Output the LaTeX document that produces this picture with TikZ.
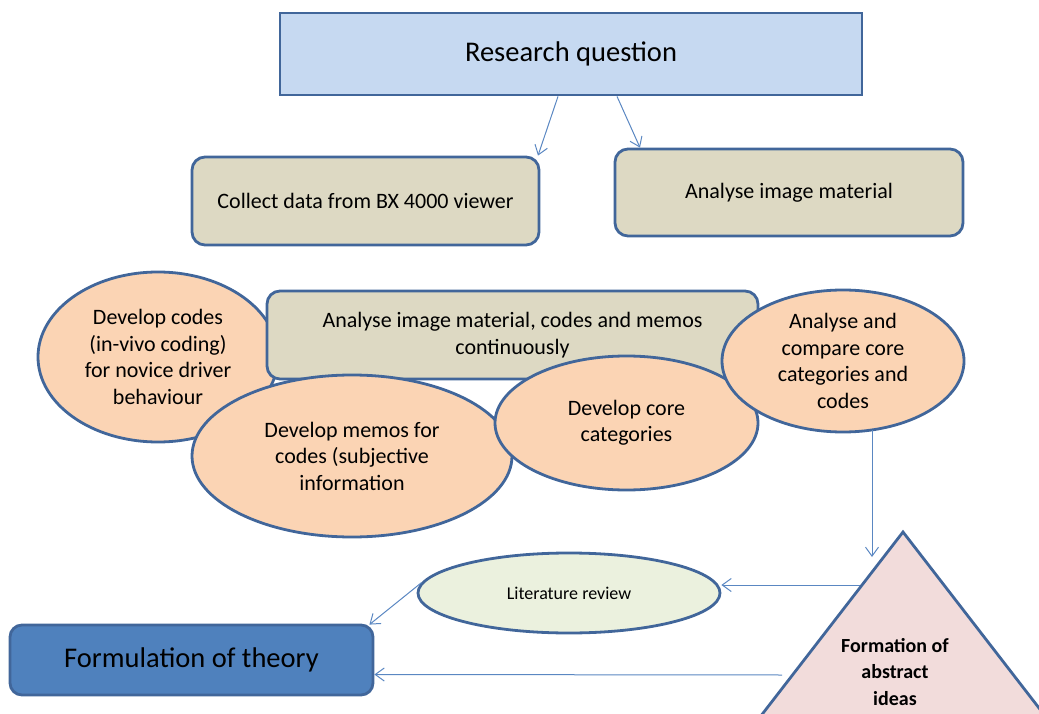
\documentclass[tikz,border=0pt]{standalone}
\usepackage{fontspec}
\setmainfont{Carlito}
\usetikzlibrary{shapes.geometric,arrows.meta}

\definecolor{edgeblue}{HTML}{41669A}
\definecolor{rqfill}{HTML}{C6D9F1}
\definecolor{tanfill}{HTML}{DDD9C3}
\definecolor{peach}{HTML}{FBD4B4}
\definecolor{litfill}{HTML}{EBF1DE}
\definecolor{trifill}{HTML}{F2DCDB}
\definecolor{theoryfill}{HTML}{4F81BD}
\definecolor{arrowblue}{HTML}{5A87C2}

\tikzset{
  box/.style={draw=edgeblue, line width=2.8pt, inner sep=0pt, align=center},
  tanbox/.style={box, fill=tanfill, rounded corners=13pt, font=\fontsize{22}{26.5}\selectfont},
  bubble/.style={box, ellipse, fill=peach, font=\fontsize{22}{26.5}\selectfont},
  flow/.style={draw=arrowblue, line width=1pt, -{Straight Barb[length=9pt,width=13pt]}},
}

\begin{document}
\begin{tikzpicture}[x=1pt,y=-1pt]
\useasboundingbox (0,0) rectangle (1039,714);
\clip (0,0) rectangle (1039,714);

% top of the process
\node[box, fill=rqfill, minimum width=582pt, minimum height=82pt,
      font=\fontsize{28.5}{32}\selectfont] (rq) at (571,54) {Research question};
\node[tanbox, minimum width=347pt, minimum height=88pt] (collect) at (365.5,201)
      {Collect data from BX 4000 viewer};
\node[tanbox, minimum width=348pt, minimum height=87pt] (analyse) at (789,192.5)
      {Analyse image material};

% overlapping coding stage
\node[bubble, minimum width=240pt, minimum height=170pt] (codes) at (158,357)
      {Develop codes\\(in-vivo coding)\\for novice driver\\behaviour};
\node[tanbox, minimum width=491pt, minimum height=88pt] (cont) at (512.5,335)
      {Analyse image material, codes and memos\\continuously};
\node[bubble, minimum width=320pt, minimum height=162pt] (memos) at (352,456)
      {Develop memos for\\codes (subjective\\information};
\node[bubble, minimum width=263pt, minimum height=134pt] (core) at (626.5,423)
      {Develop core\\categories};
\node[bubble, minimum width=242pt, minimum height=142pt] (compare) at (843,361)
      {Analyse and\\compare core\\categories and\\codes};

% abstraction triangle
\coordinate (apex) at (903,532);
\draw[draw=edgeblue, line width=2.8pt, fill=trifill, line join=miter]
  (apex) -- (750,730) -- (1056,730) -- cycle;
\node[font=\bfseries\fontsize{20}{26.5}\selectfont, align=center] (ideas) at (895,672)
      {Formation of\\abstract\\ideas};
\coordinate (tri-top-in) at (872,557);
\coordinate (tri-lit) at (860,585);
\coordinate (tri-theory) at (782,675);

% bottom row
\node[box, ellipse, fill=litfill, minimum width=302pt, minimum height=80pt,
      font=\fontsize{18}{20}\selectfont] (lit) at (569,593) {Literature review};
\node[box, fill=theoryfill, rounded corners=12pt, minimum width=363pt, minimum height=70pt,
      font=\fontsize{28.5}{32}\selectfont] (theory) at (191.5,660) {Formulation of theory};

% connectors
\draw[flow] ([xshift=-13pt]rq.south) -- ([xshift=172.5pt]collect.north);
\draw[flow] ([xshift=46pt]rq.south) -- ([xshift=-149pt]analyse.north);
\draw[flow, shorten <=-3pt] (tri-top-in |- compare.south) -- (tri-top-in);
\draw[flow] (tri-lit) -- ([yshift=8pt]lit.east);
\draw[flow] (lit.176) -- ([xshift=-5pt,yshift=-1pt]theory.north east);
\draw[flow] (tri-theory) -- ([yshift=-14.5pt]theory.east);
\end{tikzpicture}
\end{document}
